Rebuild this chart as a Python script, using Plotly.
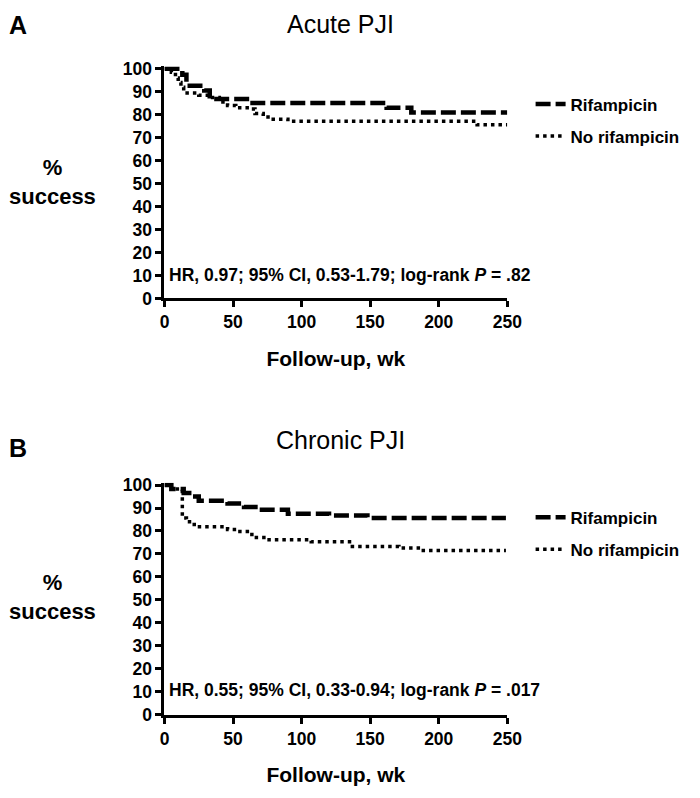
import plotly.graph_objects as go

# ---------------- data ----------------
# Panel A: Acute PJI
acute_rif_wk = [0, 13, 16, 29, 33, 62, 162, 180, 250]
acute_rif_pct = [100, 97.4, 92.6, 90.5, 86.8, 85.1, 83.0, 81.0, 81.0]
acute_norif_wk = [0, 5, 8, 10, 12, 14, 25, 33, 40, 46, 52, 62, 66, 72, 78, 90, 228, 250]
acute_norif_pct = [100, 98.5, 96, 94, 92, 89.5, 88.5, 87.5, 85.5, 84, 83, 82.5, 80.5, 79, 78, 77.1, 75.6, 75.6]

# Panel B: Chronic PJI
chronic_rif_wk = [0, 5, 14, 20, 25, 46, 58, 68, 90, 120, 148, 249]
chronic_rif_pct = [100, 98.3, 96.5, 95, 93.2, 92, 90.5, 89.2, 87.5, 86.7, 85.7, 85.7]
chronic_norif_wk = [0, 5, 13, 16, 20, 23, 46, 55, 62, 67, 74, 107, 137, 171, 187, 249]
chronic_norif_pct = [100, 98.3, 85.7, 84, 82.8, 81.8, 80.7, 79.8, 78.5, 77.2, 76.2, 75.3, 73.3, 72.6, 71.5, 71.5]

series_names = ["Rifampicin", "No rifampicin"]
panel_titles = ["Acute PJI", "Chronic PJI"]
panel_letters = ["A", "B"]
stat_texts = [
    "HR, 0.97; 95% CI, 0.53-1.79; log-rank <i>P</i> = .82",
    "HR, 0.55; 95% CI, 0.33-0.94; log-rank <i>P</i> = .017",
]
x_ticks = [0, 50, 100, 150, 200, 250]
y_ticks = [0, 10, 20, 30, 40, 50, 60, 70, 80, 90, 100]

# ---------------- figure ----------------
OFF = 8  # page body margin
W, H = 700 - OFF, 798 - OFF
FONT = "Arial, Liberation Sans, sans-serif"

def py(px):  # screen pixel row -> paper y
    return 1 - (px - OFF) / H

def pxx(px):  # screen pixel column -> paper x
    return (px - OFF) / W

fig = go.Figure()

dash_rif = "15px,5px"
dash_norif = "3.5px,4px"

panels = [
    (acute_rif_wk, acute_rif_pct, acute_norif_wk, acute_norif_pct, "x", "y", "legend"),
    (chronic_rif_wk, chronic_rif_pct, chronic_norif_wk, chronic_norif_pct, "x2", "y2", "legend2"),
]
for (rw, rp, nw, npct, xa, ya, lg) in panels:
    fig.add_trace(go.Scatter(x=rw, y=rp, mode="lines", line=dict(color="black", width=4.5, dash=dash_rif, shape="hv"),
                             name=series_names[0], xaxis=xa, yaxis=ya, legend=lg, legendgroup=lg + "r"))
    fig.add_trace(go.Scatter(x=nw, y=npct, mode="lines", line=dict(color="black", width=3.5, dash=dash_norif, shape="hv"),
                             name=series_names[1], xaxis=xa, yaxis=ya, legend=lg, legendgroup=lg + "n"))

x_dom = [pxx(164), pxx(517)]
ytop_A, ybot_A = 62, 297
ytop_B, ybot_B = 488, 723
ymax = 101
ppu = (ybot_A - ytop_A) / 100.0

axis_common = dict(showline=True, linecolor="black", linewidth=3, ticks="outside", ticklen=6, tickwidth=3,
                   tickcolor="black", showgrid=False, zeroline=False,
                   tickfont=dict(family=FONT, size=17.5, color="black", weight="bold"))

xtitle = dict(text="Follow-up, wk", font=dict(family=FONT, size=21, color="black", weight="bold"), standoff=20)

fig.update_layout(
    width=W, height=H, plot_bgcolor="white", paper_bgcolor="white",
    margin=dict(l=0, r=0, t=0, b=0),
    xaxis=dict(domain=x_dom, range=[0, 250], tickvals=x_ticks, anchor="y", title=xtitle, **axis_common),
    yaxis=dict(domain=[py(ybot_A), py(ytop_A - (ymax - 100) * ppu)], range=[0, ymax], tickvals=y_ticks,
               anchor="x", **axis_common),
    xaxis2=dict(domain=x_dom, range=[0, 250], tickvals=x_ticks, anchor="y2", title=xtitle, **axis_common),
    yaxis2=dict(domain=[py(ybot_B), py(ytop_B - (ymax - 100) * ppu)], range=[0, ymax], tickvals=y_ticks,
                anchor="x2", **axis_common),
    legend=dict(x=pxx(541), xanchor="left", y=py(80), yanchor="top", tracegroupgap=7, traceorder="grouped",
                font=dict(family=FONT, size=17, color="black", weight="bold"), itemwidth=30, bgcolor="rgba(0,0,0,0)"),
    legend2=dict(x=pxx(541), xanchor="left", y=py(503), yanchor="top", tracegroupgap=7, traceorder="grouped",
                 font=dict(family=FONT, size=17, color="black", weight="bold"), itemwidth=30, bgcolor="rgba(0,0,0,0)"),
    showlegend=True,
)

ann = []
for i, (title_y, letter_y, stat_y, ylab_y) in enumerate([(16, 17, 273, 178), (442, 450, 698, 603)]):
    ann.append(dict(text=panel_titles[i], x=pxx(345), y=py(title_y), xref="paper", yref="paper",
                    showarrow=False, xanchor="center", yanchor="middle",
                    font=dict(family=FONT, size=25, color="black")))
    ann.append(dict(text="<b>" + panel_letters[i] + "</b>", x=pxx(2), y=py(letter_y), xref="paper", yref="paper",
                    showarrow=False, xanchor="left", yanchor="middle",
                    font=dict(family=FONT, size=25, color="black")))
    ann.append(dict(text="<b>" + stat_texts[i] + "</b>", x=pxx(167), y=py(stat_y), xref="paper", yref="paper",
                    showarrow=False, xanchor="left", yanchor="middle",
                    font=dict(family=FONT, size=17.5, color="black")))
    ann.append(dict(text="<b>%<br>success</b>", x=pxx(49), y=py(ylab_y), xref="paper", yref="paper",
                    showarrow=False, xanchor="center", yanchor="middle",
                    font=dict(family=FONT, size=22, color="black")))
fig.update_layout(annotations=ann)

fig.write_html("out.html")
